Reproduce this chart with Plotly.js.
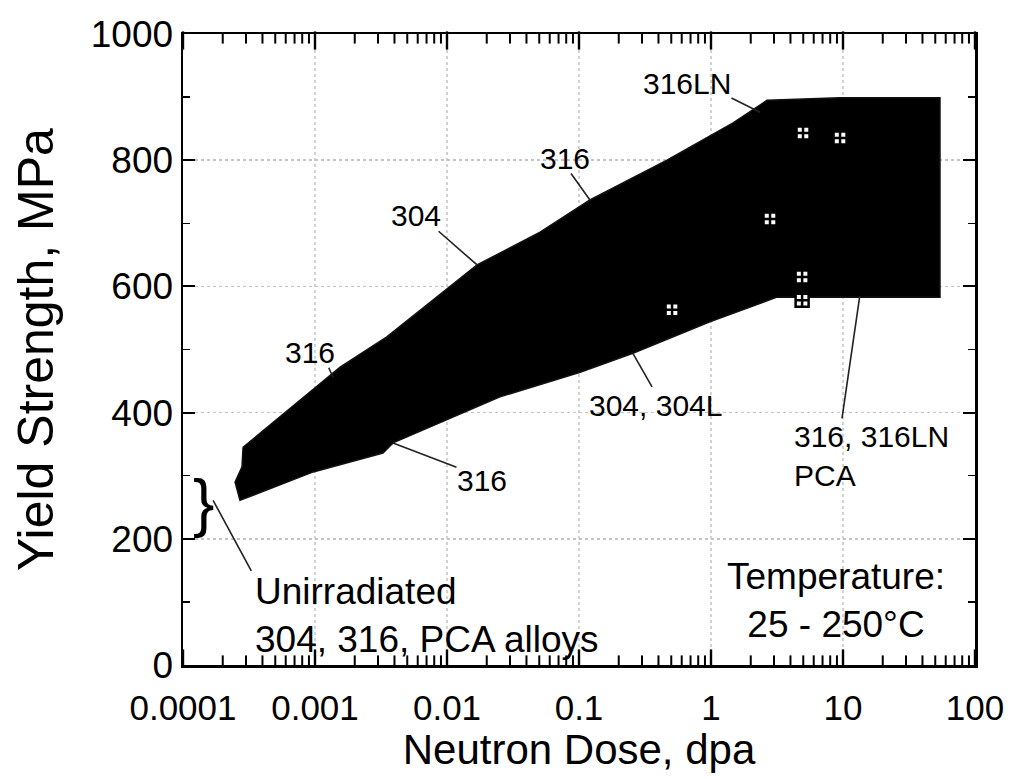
<!DOCTYPE html>
<html>
<head>
<meta charset="utf-8">
<script src="https://cdn.plot.ly/plotly-3.0.1.min.js"></script>
<style>html,body{margin:0;padding:0;background:#fff;}#chart{width:1019px;height:779px;}</style>
</head>
<body>
<div id="chart"></div>
<script>
// Upper boundary of the irradiated scatter band (dose in dpa, yield strength in MPa)
const upperDose = [0.000285, 0.00077, 0.00155, 0.0035, 0.01, 0.0169, 0.0507, 0.121, 0.464, 1.47, 2.66, 9.5, 54.3];
const upperYS   = [345, 420, 472, 520, 597, 634, 686, 737, 800, 859, 895, 899, 899];
// Lower boundary, from high dose back to low dose
const lowerDose = [54.3, 3.16, 0.98, 0.256, 0.102, 0.0252, 0.0039, 0.00327, 0.00097, 0.00027, 0.000248, 0.00028];
const lowerYS   = [583, 583, 544, 494, 464, 425, 352, 336, 306, 261, 290, 314];
// Individual highlighted data points (open-square symbols inside band)
const pointDose = [0.507, 2.8, 4.98, 9.5, 4.9, 4.9];
const pointYS   = [563, 707, 843, 835, 615, 578];
// Axis ticks
const xTickVals = [0.0001, 0.001, 0.01, 0.1, 1, 10, 100];
const xTickText = ['0.0001', '0.001', '0.01', '0.1', '1', '10', '100'];
const yTickVals = [0, 200, 400, 600, 800, 1000];
const yTickText = ['0', '200', '400', '600', '800', '1000'];
const minorMultipliers = [2, 3, 4, 5, 6, 7, 8, 9];
// Alloy labels and the band points they refer to
const labelText = ['316LN', '316', '304', '316', '304, 304L', '316, 316LN<br>PCA', '316'];
const labelDose = [2.35, 0.121, 0.0169, 0.00137, 0.256, 13.4, 0.0039];
const labelYS   = [876, 737, 634, 456, 494, 585, 352];

const bandX = upperDose.concat(lowerDose, [upperDose[0]]);
const bandY = upperYS.concat(lowerYS, [upperYS[0]]);

const yMin = yTickVals[0], yMax = yTickVals[yTickVals.length - 1];
const plotH = 779 - 34 - 114;
const unitsPerPx = (yMax - yMin) / plotH;

// dotted decade grid lines, derived from the tick values
const gridX = [], gridY = [];
xTickVals.slice(1, -1).forEach(d => { gridX.push(d, d, null); gridY.push(yMin, yMax, null); });

// inward tick marks on the log axis (bottom and mirrored top), as vertical line markers
const xMinorVals = [];
xTickVals.slice(0, -1).forEach(d => minorMultipliers.forEach(m => xMinorVals.push(d * m)));
function tickMarks(vals, lenPx) {
  const xs = [], ys = [], half = lenPx * unitsPerPx / 2;
  vals.forEach(v => { xs.push(v, v); ys.push(yMin + half, yMax - half); });
  return {xs, ys};
}
const majorMarks = tickMarks(xTickVals, 13);
const minorMarks = tickMarks(xMinorVals, 8);

const sans = 'Liberation Sans, Arial, Helvetica, sans-serif';

const traces = [
  {
    type: 'scatter', mode: 'lines', x: gridX, y: gridY,
    line: {color: '#c4c4c4', width: 1.5, dash: 'dot'},
    hoverinfo: 'skip', showlegend: false
  },
  {
    type: 'scatter', mode: 'lines', x: bandX, y: bandY,
    fill: 'toself', fillcolor: '#000000',
    line: {color: '#111111', width: 1.5},
    hoverinfo: 'skip', showlegend: false
  },
  {
    type: 'scatter', mode: 'markers', x: pointDose, y: pointYS,
    marker: {symbol: 'square-cross', size: 13, color: '#ffffff', line: {color: '#000000', width: 2.5}},
    showlegend: false
  },
  {
    type: 'scatter', mode: 'markers', x: majorMarks.xs, y: majorMarks.ys, cliponaxis: false,
    marker: {symbol: 'line-ns', size: 13, color: '#000', line: {color: '#000', width: 2.4}},
    hoverinfo: 'skip', showlegend: false
  },
  {
    type: 'scatter', mode: 'markers', x: minorMarks.xs, y: minorMarks.ys, cliponaxis: false,
    marker: {symbol: 'line-ns', size: 8, color: '#000', line: {color: '#000', width: 2}},
    hoverinfo: 'skip', showlegend: false
  }
];

// Leader lines (pixel offsets of the tail from the head)
const leaderOffsets = [[-30, -15], [-20, -28], [-40, -35], [-5, -11], [20, 35], [-18, 124], [65, 25]];
const textPos = [
  {x: 0.636, y: 0.921, xa: 'center', ya: 'middle'},
  {x: 0.482, y: 0.803, xa: 'center', ya: 'middle'},
  {x: 0.294, y: 0.713, xa: 'center', ya: 'middle'},
  {x: 0.160, y: 0.496, xa: 'center', ya: 'middle'},
  {x: 0.597, y: 0.412, xa: 'center', ya: 'middle'},
  {x: 0.769, y: 0.392, xa: 'left', ya: 'top'},
  {x: 0.378, y: 0.292, xa: 'center', ya: 'middle'}
];

const annotations = [];
labelText.forEach((t, i) => {
  annotations.push({
    xref: 'x', yref: 'y', x: Math.log10(labelDose[i]), y: labelYS[i],
    text: '', showarrow: true, arrowhead: 0, arrowwidth: 1.6, arrowcolor: '#222',
    ax: leaderOffsets[i][0], ay: leaderOffsets[i][1], axref: 'pixel', ayref: 'pixel'
  });
  annotations.push({
    xref: 'paper', yref: 'paper', x: textPos[i].x, y: textPos[i].y,
    xanchor: textPos[i].xa, yanchor: textPos[i].ya, align: 'left',
    text: t, showarrow: false, font: {family: sans, size: 30, color: '#000'}
  });
});
// Unirradiated brace, leader and text
annotations.push({
  xref: 'paper', yref: 'paper', x: 0.0265, y: 0.257, xanchor: 'center', yanchor: 'middle',
  text: '}', showarrow: false, font: {family: sans, size: 64, color: '#000'}
});
annotations.push({
  xref: 'paper', yref: 'paper', x: 0.038, y: 0.261, text: '', showarrow: true,
  arrowhead: 0, arrowwidth: 1.6, arrowcolor: '#222', ax: 39, ay: 72
});
annotations.push({
  xref: 'paper', yref: 'paper', x: 0.088, y: 0.152, xanchor: 'left', yanchor: 'top', align: 'left',
  text: 'Unirradiated<br>304, 316, PCA alloys', showarrow: false,
  font: {family: sans, size: 37, color: '#000'}
});
annotations.push({
  xref: 'paper', yref: 'paper', x: 0.824, y: 0.176, xanchor: 'center', yanchor: 'top', align: 'center',
  text: 'Temperature:<br>25 - 250°C', showarrow: false,
  font: {family: sans, size: 37, color: '#000'}
});

const layout = {
  width: 1019, height: 779,
  margin: {l: 183, r: 44, t: 34, b: 114},
  paper_bgcolor: '#ffffff', plot_bgcolor: '#ffffff',
  showlegend: false,
  xaxis: {
    type: 'log', range: [-4, 2],
    tickmode: 'array', tickvals: xTickVals, ticktext: xTickText,
    ticks: 'inside', ticklen: 13, tickwidth: 2.4, tickcolor: '#000',
    showline: true, linewidth: 2.5, linecolor: '#000', mirror: 'allticks',
    showgrid: false,
    tickfont: {family: sans, size: 35, color: '#000'},
    ticklabelstandoff: 10,
    title: {text: 'Neutron Dose, dpa', font: {family: sans, size: 42, color: '#000'}, standoff: 4},
    zeroline: false
  },
  yaxis: {
    range: [yMin, yMax],
    tickmode: 'array', tickvals: yTickVals, ticktext: yTickText,
    ticks: 'inside', ticklen: 12, tickwidth: 2, tickcolor: '#000',
    showline: true, linewidth: 2.5, linecolor: '#000', mirror: 'allticks',
    showgrid: true, gridcolor: '#c4c4c4', gridwidth: 1.5, griddash: 'dot',
    minor: {ticks: 'inside', ticklen: 7, tickwidth: 1.5, tickcolor: '#000', dtick: 100, showgrid: false},
    tickfont: {family: sans, size: 37, color: '#000'},
    title: {text: 'Yield Strength, MPa', font: {family: sans, size: 50, color: '#000'}, standoff: 22},
    zeroline: false
  },
  annotations: annotations
};

Plotly.newPlot('chart', traces, layout, {staticPlot: true, displayModeBar: false});
</script>
</body>
</html>
